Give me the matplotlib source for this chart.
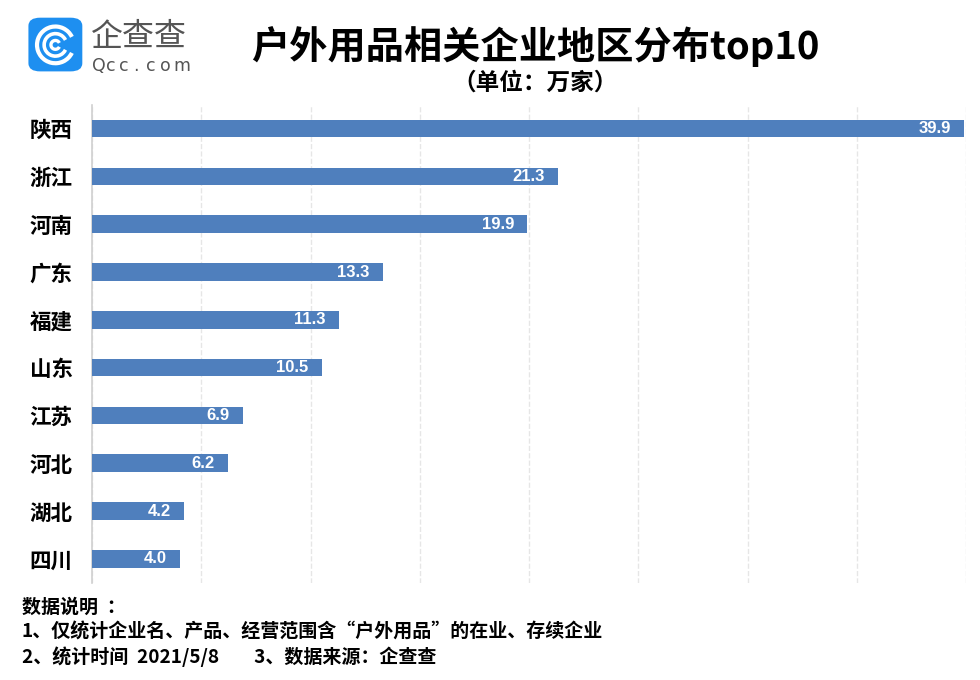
import matplotlib.pyplot as plt
from matplotlib.patches import FancyBboxPatch, Arc

plt.rcParams['font.family'] = ['Noto Sans CJK SC', 'DejaVu Sans']

regions = ['陕西', '浙江', '河南', '广东', '福建', '山东', '江苏', '河北', '湖北', '四川']
counts = [39.9, 21.3, 19.9, 13.3, 11.3, 10.5, 6.9, 6.2, 4.2, 4.0]

bar_color = '#4f7fbd'

fig = plt.figure(figsize=(9.8, 6.8), dpi=100)
ax = fig.add_axes([0.094, 0.143, 0.892, 0.703])

y = list(range(len(regions)))
ax.barh(y, counts, height=0.37, color=bar_color, zorder=3)
for yi, v in zip(y, counts):
    ax.text(v - 0.6, yi, f'{v:.1f}', color='white', fontsize=12, fontweight='bold',
            ha='right', va='center', family=['Liberation Sans', 'DejaVu Sans'], zorder=4)

ax.set_xlim(0, 40)
ax.set_ylim(9.5, -0.5)
ax.set_xticks(range(0, 41, 5))
ax.set_xticklabels([])
ax.tick_params(axis='x', length=0)
ax.set_yticks(y)
ax.set_yticklabels(regions, fontsize=15.5, fontweight='bold')
ax.tick_params(axis='y', length=0, pad=14)
ax.grid(axis='x', color='#e6e6e6', linestyle='--', linewidth=1, zorder=0)
for s in ['top', 'right', 'bottom']:
    ax.spines[s].set_visible(False)
ax.spines['left'].set_color('#d0d0d0')
ax.spines['left'].set_linewidth(1.2)

# title
fig.text(0.546, 0.932, '户外用品相关企业地区分布top10', fontsize=27.5, fontweight='bold',
         ha='center', va='center')
fig.text(0.546, 0.878, '（单位：万家）', fontsize=17, fontweight='bold',
         ha='center', va='center')

# logo
logo = FancyBboxPatch((0.029, 0.895), 0.055, 0.079, boxstyle='round,pad=0,rounding_size=0.012',
                      transform=fig.transFigure, facecolor='#1e8ff0', edgecolor='none')
fig.patches.append(logo)
for r, lw in [(0.027, 3.0), (0.0165, 2.6), (0.0065, 2.4)]:
    arc = Arc((0.0565, 0.934), 2 * r * 680 / 980, 2 * r, theta1=35, theta2=325,
              transform=fig.transFigure, color='white', linewidth=lw)
    fig.patches.append(arc)
fig.text(0.093, 0.946, '企查查', fontsize=23, color='#555555', ha='left', va='center')
for i, ch in enumerate('Qcc.com'):
    fig.text(0.094 + i * 0.0138, 0.903, ch, fontsize=12.5, color='#555555',
             ha='left', va='center', family=['DejaVu Sans'])

# footnotes
fig.text(0.022, 0.107, '数据说明  ：', fontsize=13.7, fontweight='bold', ha='left', va='center')
fig.text(0.022, 0.070, '1、仅统计企业名、产品、经营范围含“户外用品”的在业、存续企业',
         fontsize=13.7, fontweight='bold', ha='left', va='center')
fig.text(0.022, 0.034, '2、统计时间  2021/5/8        3、数据来源：企查查',
         fontsize=13.7, fontweight='bold', ha='left', va='center')

fig.savefig('out.png', dpi=100)
